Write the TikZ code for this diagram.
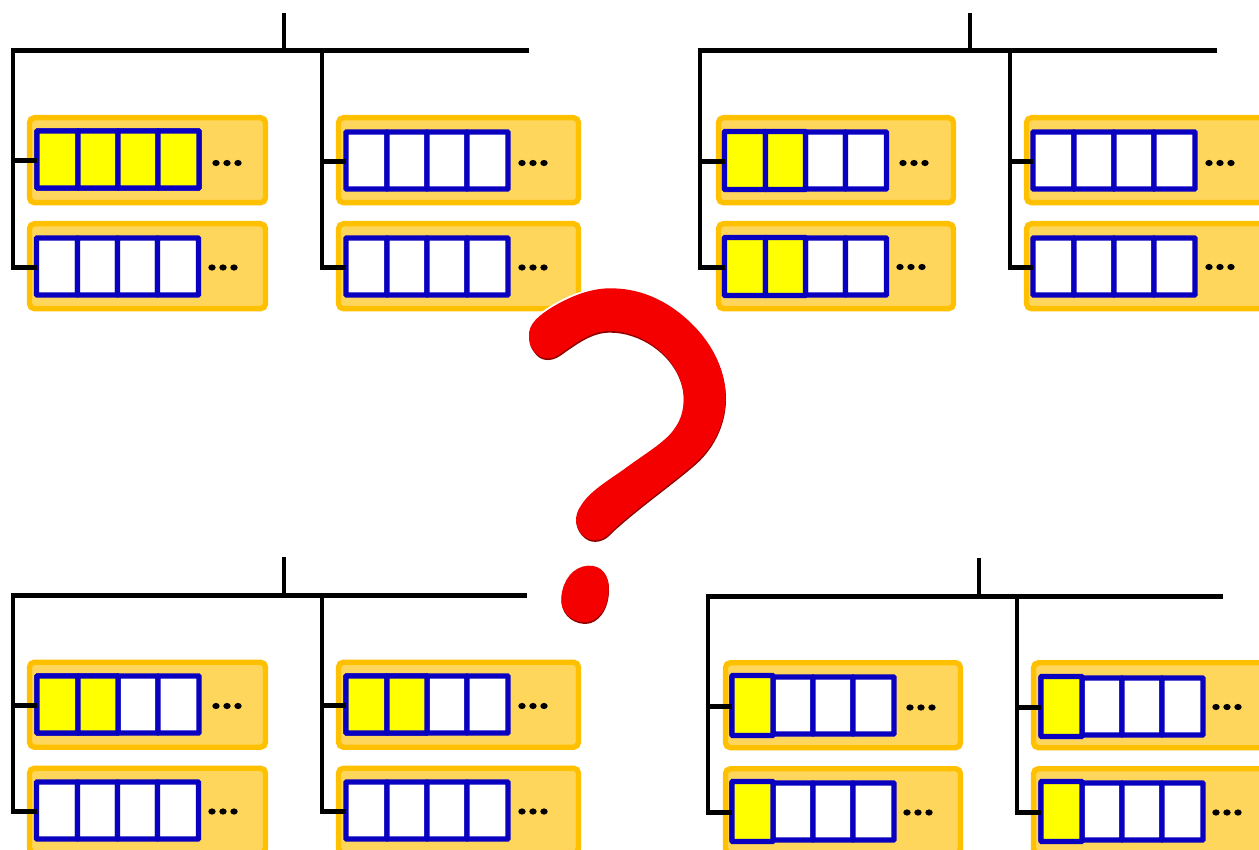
\documentclass[tikz,border=0pt]{standalone}
\usetikzlibrary{shapes.geometric}
\definecolor{bladeedge}{HTML}{FFC000}
\definecolor{bladefill}{HTML}{FFD65C}
\definecolor{cellblue}{HTML}{0A00C0}
\definecolor{cellyellow}{HTML}{FFFF00}
\definecolor{qred}{HTML}{F40000}
\definecolor{qdark}{HTML}{8E0000}
\tikzset{
  bladebox/.style={draw=bladeedge,fill=bladefill,line width=5.4pt,rounded corners=5pt,minimum height=85pt,inner sep=0pt,outer sep=0pt,anchor=north west},
  cellbox/.style={draw=cellblue,fill=white,line width=5.4pt,minimum height=57pt,inner sep=0pt,outer sep=0pt,anchor=north west,rounded corners=0.6pt},
  busline/.style={line width=4.2pt,black,line cap=butt},
  stubline/.style={line width=4.5pt,black},
  dotmark/.style={fill=black,draw=none,ellipse,minimum width=7.4pt,minimum height=6.2pt,inner sep=0pt}
}
\def\fg{0}
% name, blade x, blade y, blade width, cell x, cell y, filled cells, dots x, dots y
\newcommand{\bladerow}[9]{%
  \node[bladebox,minimum width=#4pt] (#1) at (#2,#3-0.8) {};
  \node[cellbox,minimum width=41pt] (#1a) at (#5,#6) {};
  \node[cellbox,minimum width=40pt] (#1b) at (#5+41,#6) {};
  \node[cellbox,minimum width=40pt] (#1c) at (#5+81,#6) {};
  \node[cellbox,minimum width=41pt] (#1d) at (#5+121,#6) {};
  \foreach \k/\off/\wid in {1/0/41,2/41/40,3/81/40,4/121/41}{%
    \ifnum\k>#7\relax\else
      \node[cellbox,fill=cellyellow,minimum width=\wid pt,minimum height=57pt+\fg pt] at (#5+\off,#6-\fg/2) {};
    \fi}
  \node[dotmark] (#1p) at (#8,#9) {};
  \node[dotmark] (#1q) at (#8+11,#9) {};
  \node[dotmark] (#1r) at (#8+22,#9) {};
}
\newcommand{\qbody}{(58,205) .. controls (55,165) and (90,140) .. (130,115)
 .. controls (190,80) and (250,58) .. (310,60)
 .. controls (400,62) and (480,100) .. (550,170)
 .. controls (610,230) and (650,310) .. (648,395)
 .. controls (645,470) and (610,540) .. (550,590)
 .. controls (480,650) and (380,720) .. (305,790)
 .. controls (285,815) and (250,825) .. (225,805)
 .. controls (195,780) and (190,745) .. (215,710)
 .. controls (240,670) and (290,640) .. (340,605)
 .. controls (400,560) and (470,520) .. (495,480)
 .. controls (525,440) and (530,380) .. (510,330)
 .. controls (480,250) and (390,188) .. (300,188)
 .. controls (250,188) and (210,215) .. (150,258)
 .. controls (120,278) and (90,272) .. (75,250)
 .. controls (62,235) and (58,220) .. (58,205) -- cycle
 (235,892) .. controls (275,890) and (300,920) .. (297,965)
 .. controls (295,1020) and (265,1062) .. (225,1062)
 .. controls (180,1060) and (150,1025) .. (155,985)
 .. controls (160,935) and (190,895) .. (235,892) -- cycle}
% panel: prefix, stem x, stem top, bus y, bus left, bus right, mid x
\newcommand{\treebus}[7]{%
  \coordinate (#1stemtop) at (#2,#3);
  \coordinate (#1stem) at (#2,#4);
  \coordinate (#1bl) at (#5,#4);
  \coordinate (#1br) at (#6,#4);
  \coordinate (#1mid) at (#7,#4);
  \draw[busline] (#1stemtop) -- (#1stem);
  \draw[busline] ([xshift=-2.1pt]#1bl) -- (#1br);
}
\newcommand{\treelinks}[1]{%
  \draw[busline] (#1bl) -- ([yshift=-3pt]#1bl |- #1xa.west);
  \draw[busline] (#1mid) -- ([yshift=-3pt]#1mid |- #1za.west);
  \draw[stubline] ([xshift=-2.1pt,yshift=-1pt]#1bl |- #1wa.west) -- ([yshift=-1pt]#1wa.west);
  \draw[stubline] ([xshift=-2.1pt,yshift=-0.8pt]#1bl |- #1xa.west) -- ([yshift=-0.8pt]#1xa.west);
  \draw[stubline] ([xshift=-2.1pt,yshift=-1pt]#1mid |- #1ya.west) -- ([yshift=-1pt]#1ya.west);
  \draw[stubline] ([xshift=-2.1pt,yshift=-0.8pt]#1mid |- #1za.west) -- ([yshift=-0.8pt]#1za.west);
}
\begin{document}
\begin{tikzpicture}[x=1pt,y=-1pt]
\useasboundingbox (0,0) rectangle (1259,850);
\clip (0,0) rectangle (1259,850);
\fill[white] (0,0) rectangle (1259,850);
% top left
\treebus{A}{284}{13}{50.6}{13}{529}{322}
\bladerow{Aw}{29.5}{118.5}{236}{37}{131}{4}{216}{163}
\bladerow{Ax}{29.5}{224.5}{236}{36.5}{238}{0}{212}{267.5}
\bladerow{Ay}{338.5}{118.5}{240}{346}{132}{0}{522}{163}
\bladerow{Az}{338.5}{224.5}{240}{346}{238}{0}{522}{267.5}
\treelinks{A}
% top right
\def\fg{1}
\treebus{B}{970}{13}{50.6}{700}{1217}{1010}
\bladerow{Bw}{718.5}{118.5}{235}{724.5}{132}{2}{903}{163}
\bladerow{Bx}{718.5}{224.5}{235}{724.5}{238}{2}{900}{267}
\bladerow{By}{1026.5}{118.5}{240}{1033}{132}{0}{1209}{163}
\bladerow{Bz}{1026.5}{224.5}{240}{1033}{238}{0}{1209}{267}
\treelinks{B}
% bottom left
\def\fg{0}
\treebus{C}{284}{557}{595.4}{13}{527}{322}
\bladerow{Cw}{29.5}{663}{236}{37}{676}{2}{216}{706}
\bladerow{Cx}{29.5}{769}{236}{36.5}{782}{0}{212}{811.5}
\bladerow{Cy}{338.5}{663}{240}{346}{676}{2}{522}{706}
\bladerow{Cz}{338.5}{769}{240}{346}{782}{0}{522}{811.5}
\treelinks{C}
% bottom right
\def\fg{3}
\treebus{D}{979}{558}{596.4}{708}{1223}{1017}
\bladerow{Dw}{725.5}{663.5}{235}{732}{677}{1}{910}{707.5}
\bladerow{Dx}{725.5}{769.5}{235}{732}{783}{1}{907}{812.5}
\bladerow{Dy}{1033.5}{663.5}{240}{1041}{678}{1}{1216}{707}
\bladerow{Dz}{1033.5}{769.5}{240}{1041}{783}{1}{1216}{812.5}
\treelinks{D}
% question mark
\begin{scope}[shift={(510,270)},scale=1/3]
\draw[white,line width=7pt,line join=round] \qbody;
\fill[qdark] \qbody;
\begin{scope}[shift={(-1,-5)}]
\fill[qred] \qbody;
\end{scope}
\end{scope}
\end{tikzpicture}
\end{document}
